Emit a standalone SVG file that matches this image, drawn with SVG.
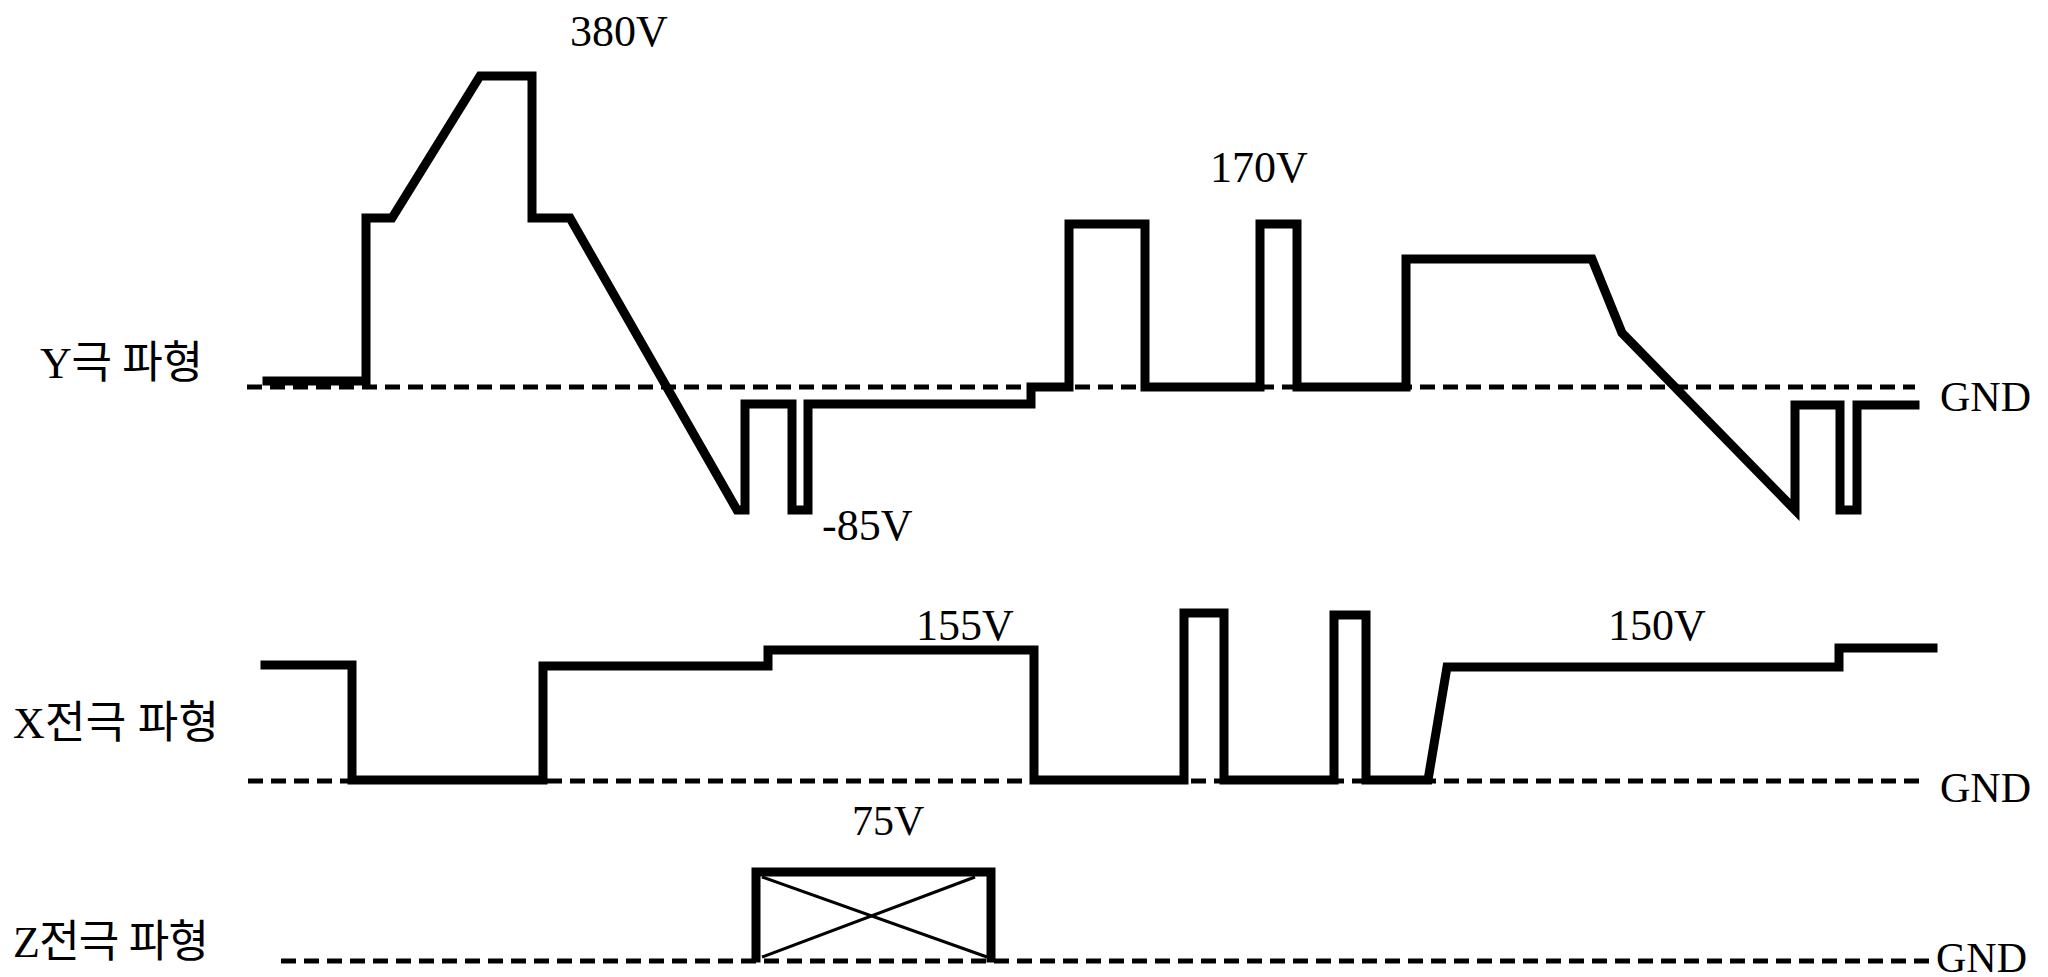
<svg xmlns="http://www.w3.org/2000/svg" width="2048" height="977" viewBox="0 0 2048 977">
<style>
.wave{fill:none;stroke:#000;stroke-width:9;stroke-linejoin:miter;stroke-linecap:square}
.gnd{fill:none;stroke:#000;stroke-width:5;stroke-dasharray:15 8}
.thin{fill:none;stroke:#000;stroke-width:3}
.v{font-family:"Liberation Serif","Times New Roman",serif;font-size:44px;fill:#000}
.g{font-family:"Liberation Serif","Times New Roman",serif;font-size:42px;fill:#000}
.lbl{font-family:"Liberation Serif","Noto Sans CJK KR",serif;font-size:44px;fill:#000}
</style>
<rect width="2048" height="977" fill="#fff"/>
<g id="ground-lines">
<line class="gnd" x1="247" y1="387" x2="1915" y2="387"/>
<line class="gnd" x1="248" y1="781" x2="1919" y2="781"/>
<line class="gnd" x1="281" y1="961" x2="1933" y2="961"/>
</g>
<g id="y-waveform">
<path class="wave" d="M267 381 H366 V218 H392 L480 76 H532 V218 H570 L737 510 H745 V404 H792 V510 H808 V404 H1031 V387 H1069 V224 H1145 V387 H1260 V224 H1297 V387 H1406 V259 H1592 L1622 333 L1795 510 V405 H1840 V510 H1857 V405 H1915"/>
<text class="v" x="570" y="46">380V</text>
<text class="v" x="1210" y="182">170V</text>
<text class="v" x="822" y="540">-85V</text>
<text class="lbl" x="40" y="378" textLength="163" lengthAdjust="spacing">Y극 파형</text>
<text class="g" x="1940" y="411">GND</text>
</g>
<g id="x-waveform">
<path class="wave" d="M265 665 H352 V780 H543 V666 H768 V650 H1034 V780 H1184 V613 H1224 V780 H1334 V615 H1366 V780 H1428 L1447 667 H1839 V648 H1933"/>
<text class="v" x="916" y="640">155V</text>
<text class="v" x="1608" y="640">150V</text>
<text class="lbl" x="13" y="738" textLength="206" lengthAdjust="spacing">X전극 파형</text>
<text class="g" x="1940" y="802">GND</text>
</g>
<g id="z-waveform">
<path class="wave" d="M756 958 V872 H991 V958"/>
<line class="thin" x1="762" y1="877" x2="987" y2="957"/>
<line class="thin" x1="762" y1="957" x2="975" y2="877"/>
<text class="v" x="852" y="835" style="font-size:42px">75V</text>
<text class="lbl" x="13" y="957" textLength="196" lengthAdjust="spacing">Z전극 파형</text>
<text class="g" x="1936" y="972">GND</text>
</g>
</svg>
